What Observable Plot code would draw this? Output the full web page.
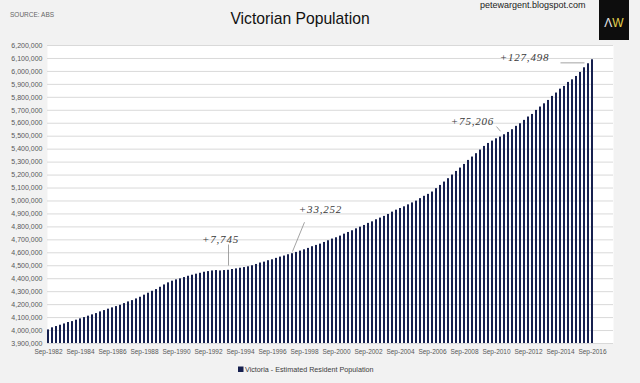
<!DOCTYPE html>
<html>
<head>
<meta charset="utf-8">
<script src="https://cdn.jsdelivr.net/npm/d3@7"></script>
<script src="https://cdn.jsdelivr.net/npm/@observablehq/plot@0.6"></script>
<style>
  body { margin: 0; background: #f2f2f2; }
  #wrap { width: 640px; height: 383px; overflow: hidden; }
  g[aria-label="text"] text { letter-spacing: 0.8px; }
</style>
</head>
<body>
<div id="wrap"></div>
<script>
// ---- Data ----
const quarterMonths = ["Sep", "Dec", "Mar", "Jun"];
const quarterCount = 137; // Sep-1982 .. Sep-2016
const quarters = Array.from({length: quarterCount}, (_, i) =>
  `${quarterMonths[i % 4]}-${1982 + Math.floor((i + 2) / 4)}`);

// Victoria - Estimated Resident Population
const population = [
  4005000, 4021000, 4031000, 4041000, 4051000, 4062000, 4069000, 4080000,
  4090000, 4100000, 4111000, 4121000, 4131000, 4144000, 4154000, 4165000,
  4175000, 4185000, 4195000, 4208000, 4221000, 4231000, 4244000, 4257000,
  4273000, 4288000, 4303000, 4316000, 4334000, 4352000, 4368000, 4381000,
  4391000, 4399000, 4409000, 4419000, 4427000, 4435000, 4442000, 4450000,
  4455000, 4460000, 4463000, 4460000, 4463000, 4465000, 4471000, 4476000,
  4481000, 4486000, 4492000, 4500000, 4510000, 4521000, 4528000, 4539000,
  4546000, 4557000, 4567000, 4575000, 4585000, 4593000, 4603000, 4613000,
  4623000, 4634000, 4647000, 4657000, 4667000, 4680000, 4693000, 4706000,
  4716000, 4729000, 4744000, 4757000, 4770000, 4785000, 4798000, 4811000,
  4827000, 4839000, 4855000, 4868000, 4881000, 4896000, 4914000, 4929000,
  4942000, 4955000, 4970000, 4985000, 4999000, 5018000, 5036000, 5051000,
  5069000, 5095000, 5120000, 5146000, 5172000, 5200000, 5228000, 5254000,
  5282000, 5313000, 5339000, 5365000, 5393000, 5421000, 5444000, 5462000,
  5480000, 5493000, 5511000, 5529000, 5550000, 5576000, 5596000, 5622000,
  5648000, 5668000, 5699000, 5725000, 5750000, 5776000, 5807000, 5833000,
  5863000, 5884000, 5915000, 5935000, 5961000, 5992000, 6028000, 6059000,
  6090000
];

const xTickLabels = [
  "Sep-1982", "Sep-1984", "Sep-1986", "Sep-1988", "Sep-1990", "Sep-1992",
  "Sep-1994", "Sep-1996", "Sep-1998", "Sep-2000", "Sep-2002", "Sep-2004",
  "Sep-2006", "Sep-2008", "Sep-2010", "Sep-2012", "Sep-2014", "Sep-2016"
];
const yTicks = d3.range(3900000, 6200001, 100000);

// Annotations (growth callouts)
const annotationLabels = ["+7,745", "+33,252", "+75,206", "+127,498"];
const annotationQuarter = ["Jun-1993", "Sep-1999", "Mar-2009", "Jun-2012"];
const annotationLevel = [4702000, 4934000, 5613000, 6107000];
const leaderFromQuarter = ["Dec-1993", "Sep-1998", "Sep-2010", "Sep-2014"];
const leaderFromLevel = [4664000, 4836000, 5574000, 6066000];
const leaderToQuarter = ["Dec-1993", "Dec-1997", "Dec-2010", "Mar-2016"];
const leaderToLevel = [4502000, 4610000, 5538000, 6066000];

const seriesName = "Victoria - Estimated Resident Population";

// ---- Build tables ----
const yMin = 3900000, yMax = 6200000;
const bars = quarters.map((q, i) => ({q, v: population[i]}));
const notes = annotationLabels.map((t, i) => ({t, q: annotationQuarter[i], v: annotationLevel[i]}));
const leaders = annotationLabels.map((t, i) => ({
  q1: leaderFromQuarter[i], v1: leaderFromLevel[i],
  q2: leaderToQuarter[i], v2: leaderToLevel[i]
}));

const barColor = "#16204f";
const narrow = "'Liberation Sans Narrow', 'Liberation Sans', Arial, sans-serif";

const chart = Plot.plot({
  width: 640,
  height: 383,
  marginLeft: 47,
  marginRight: 27,
  marginTop: 45,
  marginBottom: 40,
  style: {background: "transparent", color: "#595959", fontFamily: narrow, overflow: "visible"},
  x: {type: "band", domain: quarters, paddingInner: 0.5, paddingOuter: 0, align: 0, label: null},
  y: {domain: [yMin, yMax], label: null},
  marks: [
    Plot.frame({fill: "white", stroke: "none"}),
    Plot.gridY(yTicks, {stroke: "#d9d9d9", strokeOpacity: 1}),
    Plot.axisY({ticks: yTicks, tickSize: 0, tickPadding: 5, tickFormat: d3.format(","), fontSize: 7, label: null}),
    Plot.axisX({ticks: xTickLabels, tickSize: 0, tickPadding: 6, fontSize: 6.5, label: null}),
    Plot.barY(bars, {x: "q", y1: yMin, y2: "v", fill: barColor}),
    Plot.link(leaders, {x1: "q1", y1: "v1", x2: "q2", y2: "v2", stroke: "#8c8c8c", strokeWidth: 0.8}),
    Plot.text(notes, {x: "q", y: "v", text: "t", fontFamily: "'Liberation Serif', serif", fontStyle: "italic",
      fontSize: 11, fill: "#3a3a3a", textAnchor: "middle", lineAnchor: "middle"})
  ]
});

document.getElementById("wrap").appendChild(chart);

// ---- Header, logo and legend as SVG text ----
const svg = d3.select(chart);
const sans = "'Liberation Sans', Arial, sans-serif";

svg.append("text").attr("x", 10).attr("y", 17).attr("text-anchor", "start")
  .attr("font-family", narrow).attr("font-size", 6.5).attr("fill", "#666")
  .text("SOURCE: ABS");

svg.append("text").attr("x", 300).attr("y", 24).attr("text-anchor", "middle")
  .attr("font-family", sans).attr("font-size", 15.7).attr("fill", "#111")
  .text("Victorian Population");

svg.append("text").attr("x", 480).attr("y", 8).attr("text-anchor", "start")
  .attr("font-family", sans).attr("font-size", 9).attr("fill", "#222")
  .text("petewargent.blogspot.com");

svg.append("rect").attr("x", 599).attr("y", -2).attr("width", 30).attr("height", 42).attr("fill", "#0d0d0d");
const logo = svg.append("text").attr("x", 614).attr("y", 27).attr("text-anchor", "middle")
  .attr("font-family", sans).attr("font-size", 12);
logo.append("tspan").attr("fill", "#e6e6e6").text("Λ");
logo.append("tspan").attr("fill", "#e2d24c").text("W");

svg.append("rect").attr("x", 238).attr("y", 366.5).attr("width", 5.5).attr("height", 5.5).attr("fill", barColor);
svg.append("text").attr("x", 245).attr("y", 372).attr("text-anchor", "start")
  .attr("font-family", sans).attr("font-size", 7.2).attr("fill", "#404040")
  .text(seriesName);
</script>
</body>
</html>
